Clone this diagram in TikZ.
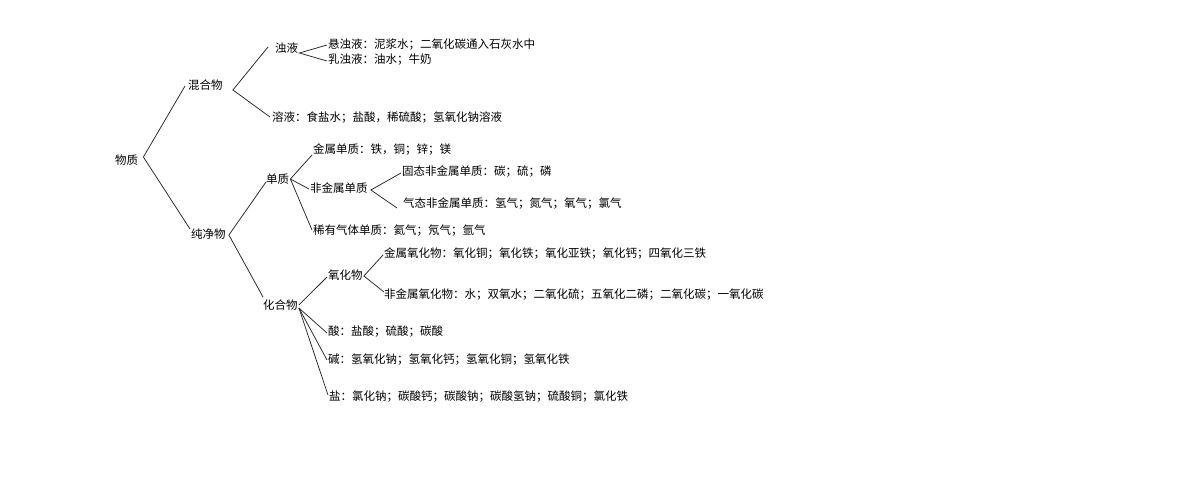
\documentclass[tikz,border=0pt]{standalone}
\usepackage{fontspec}
\setmainfont{Noto Sans CJK SC}
\begin{document}
\begin{tikzpicture}[x=1pt,y=-1pt,
  lbl/.style={anchor=west,inner sep=0pt,font=\fontsize{11.5}{12}\selectfont,text=black},
  br/.style={draw=black!85,line width=0.75pt}]
\useasboundingbox[fill=white] (0,0) rectangle (1180,500);
% nodes
\node[lbl] (wz) at (115,160) {物质};
\node[lbl] (hhw) at (188,85) {混合物};
\node[lbl] (zy) at (275,48) {浊液};
\node[lbl] (xzy) at (328,45) {悬浊液：泥浆水；二氧化碳通入石灰水中};
\node[lbl] (rzy) at (328,60) {乳浊液：油水；牛奶};
\node[lbl] (ry) at (272,118) {溶液：食盐水；盐酸，稀硫酸；氢氧化钠溶液};
\node[lbl] (cjw) at (191,234) {纯净物};
\node[lbl] (dz) at (266,179) {单质};
\node[lbl] (jsdz) at (313,150) {金属单质：铁，铜；锌；镁};
\node[lbl] (fjsdz) at (310,188) {非金属单质};
\node[lbl] (gt) at (402,172) {固态非金属单质：碳；硫；磷};
\node[lbl] (qt) at (403,204) {气态非金属单质：氢气；氮气；氧气；氯气};
\node[lbl] (xyqt) at (313,231) {稀有气体单质：氦气；氖气；氩气};
\node[lbl] (hhw2) at (263,305) {化合物};
\node[lbl] (yhw) at (328,275) {氧化物};
\node[lbl] (jsyh) at (384,254) {金属氧化物：氧化铜；氧化铁；氧化亚铁；氧化钙；四氧化三铁};
\node[lbl] (fjsyh) at (384,295) {非金属氧化物：水；双氧水；二氧化硫；五氧化二磷；二氧化碳；一氧化碳};
\node[lbl] (suan) at (328,332) {酸：盐酸；硫酸；碳酸};
\node[lbl] (jian) at (328,360) {碱：氢氧化钠；氢氧化钙；氢氧化铜；氢氧化铁};
\node[lbl] (yan) at (329,397) {盐：氯化钠；碳酸钙；碳酸钠；碳酸氢钠；硫酸铜；氯化铁};
% connectors
\draw[br] ([xshift=-3pt,yshift=-1pt]hhw.west) -- ([xshift=5pt,yshift=3pt]wz.east) -- ([xshift=-1pt,yshift=5pt]cjw.west);
\draw[br] ([xshift=-7pt,yshift=1pt]zy.west) -- ([xshift=10pt,yshift=-5pt]hhw.east) -- ([xshift=-2pt,yshift=1pt]ry.west);
\draw[br] ([xshift=-1pt]xzy.west) -- ([xshift=1pt,yshift=-5pt]zy.east) -- ([xshift=-1pt,yshift=-1pt]rzy.west);
\draw[br] ([yshift=-3pt]dz.west) -- ([xshift=3pt,yshift=-1pt]cjw.east) -- ([yshift=8pt]hhw2.west);
\draw[br] ([xshift=-1pt,yshift=-5pt]jsdz.west) -- ([xshift=1pt]dz.east) -- ([xshift=-1pt,yshift=1pt]xyqt.west);
\draw[br] ([xshift=1pt]dz.east) -- ([xshift=-1pt,yshift=-1pt]fjsdz.west);
\draw[br] ([xshift=-1pt,yshift=-1pt]gt.west) -- ([xshift=3pt,yshift=-2pt]fjsdz.east) -- ([xshift=-6pt,yshift=-4pt]qt.west);
\draw[br] ([xshift=-1pt,yshift=-2pt]yhw.west) -- ([xshift=1pt]hhw2.east);
\draw[br] ([xshift=1pt,yshift=-3pt]hhw2.east) -- ([xshift=-1pt,yshift=-1pt]suan.west);
\draw[br] ([xshift=1pt,yshift=-3pt]hhw2.east) -- ([xshift=-1pt]jian.west);
\draw[br] ([xshift=1pt,yshift=-3pt]hhw2.east) -- ([xshift=-1pt,yshift=2pt]yan.west);
\draw[br] ([xshift=-1pt,yshift=-1pt]jsyh.west) -- ([xshift=1pt,yshift=-1pt]yhw.east) -- ([yshift=3pt]fjsyh.west);
\end{tikzpicture}
\end{document}
